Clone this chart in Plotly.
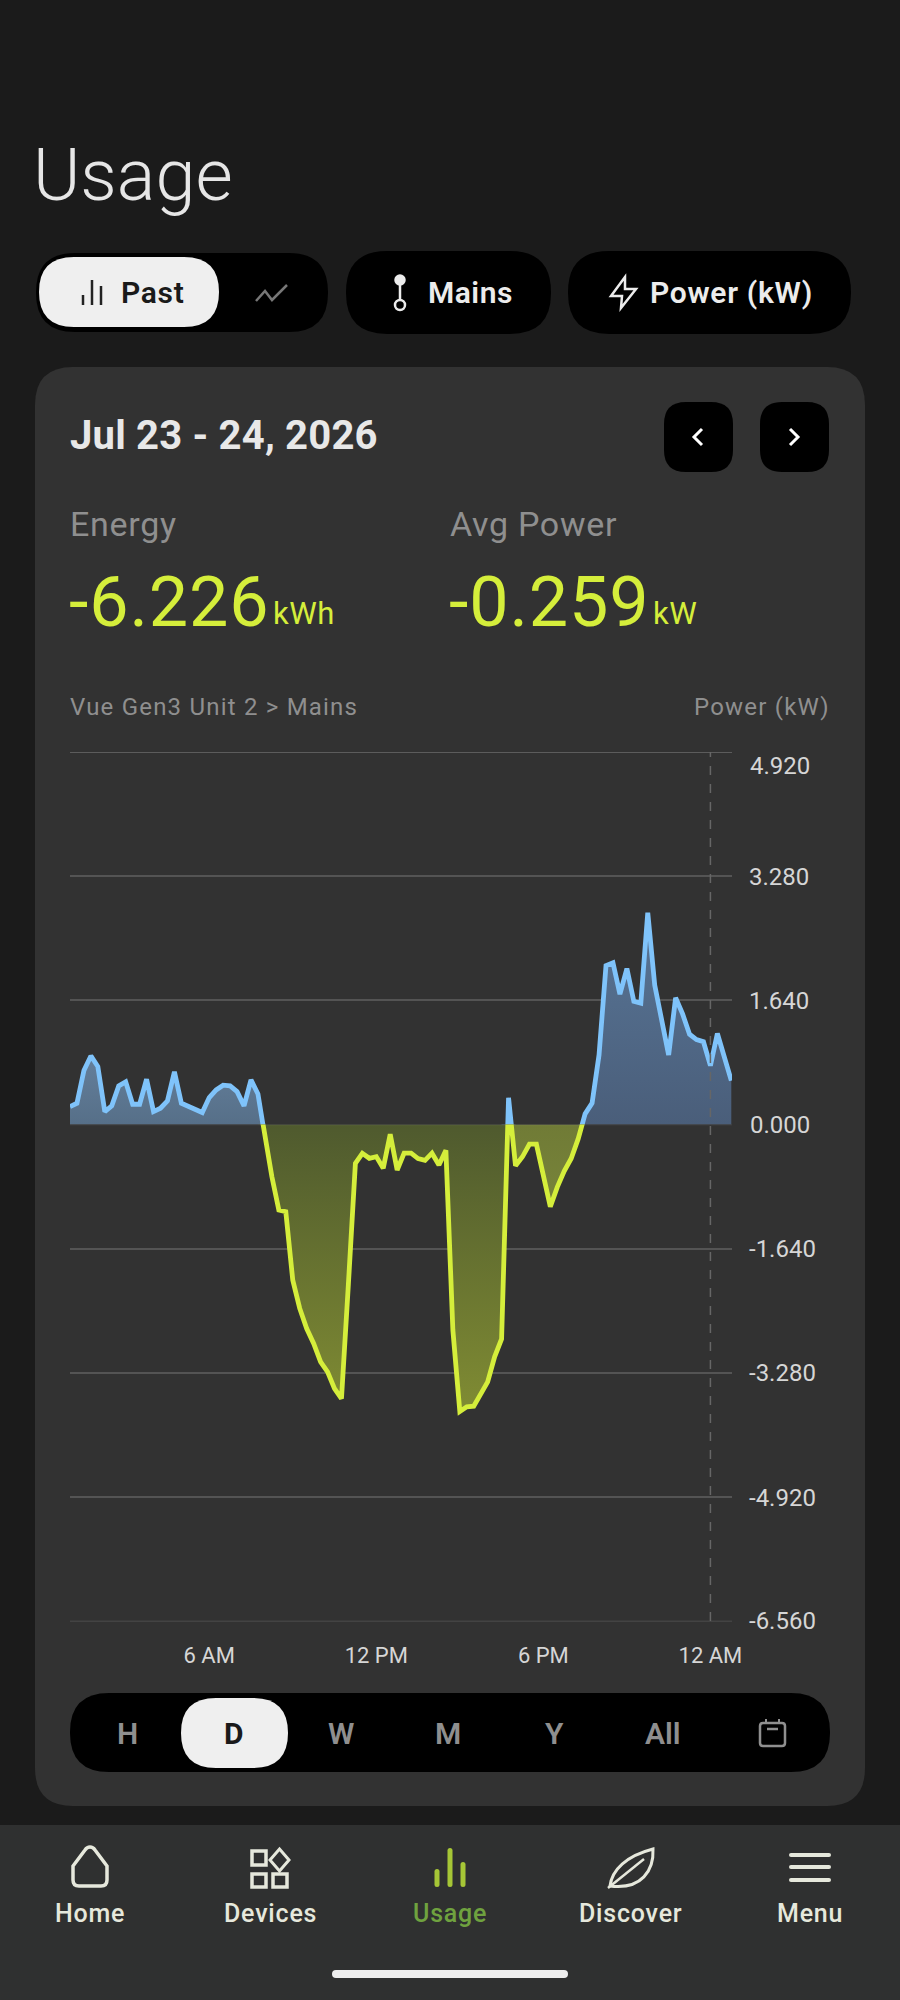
import pandas as pd
import plotly.graph_objects as go

W, H = 900, 2000

# Power every 15 minutes, 1:00 AM to 12:45 AM (kW)
power_kw = [
    0.238, 0.282, 0.714, 0.907, 0.767, 0.172, 0.247, 0.511, 0.564, 0.269,
    0.269, 0.599, 0.172, 0.216, 0.313, 0.696, 0.282, 0.238, 0.194, 0.159,
    0.357, 0.458, 0.520, 0.511, 0.436, 0.247, 0.590, 0.405, -0.159, -0.687,
    -1.128, -1.150, -2.053, -2.427, -2.692, -2.890, -3.132, -3.264, -3.485, -3.617,
    -2.097, -0.511, -0.379, -0.445, -0.423, -0.577, -0.127, -0.599, -0.377, -0.377,
    -0.448, -0.472, -0.377, -0.533, -0.340, -2.712, -3.788, -3.726, -3.717, -3.552,
    -3.396, -3.066, -2.830, 0.354, -0.542, -0.425, -0.259, -0.259, -0.684, -1.085,
    -0.825, -0.613, -0.448, -0.189, 0.142, 0.283, 0.920, 2.099, 2.137, 1.722,
    2.061, 1.627, 1.604, 2.797, 1.840, 1.344, 0.920, 1.675, 1.462, 1.193,
    1.123, 1.094, 0.778, 1.203, 0.896, 0.580,
]
times = pd.date_range("2026-07-23 01:00", periods=len(power_kw), freq="15min")

x_tick_times = ["2026-07-23 06:00", "2026-07-23 12:00", "2026-07-23 18:00", "2026-07-24 00:00"]
x_tick_labels = ["6 AM", "12 PM", "6 PM", "12 AM"]
y_ticks_up = [1.64, 3.28]
y_labels_up = ["1.640", "3.280"]
y_ticks_down = [-1.64, -3.28, -4.92]
y_labels_down = ["-1.640", "-3.280", "-4.920"]
y_top, y_bottom = 4.92, -6.56

periods = ["H", "W", "M", "Y", "All"]
period_centers = [127.5, 341, 448, 554.5, 663]
nav_labels = ["Home", "Devices", "Discover", "Menu"]
nav_centers = [90, 270, 630, 810]

BG = "#1b1b1b"
CARD = "#323232"
NAV = "#2f3030"
BLUE = "#7fc3fa"
LIME = "#d5ee3b"
GREY = "#8f8f8f"
LIGHT = "#ececec"
ICON = "#e6e8dc"
GRID = "#545454"
TICK = "#d6d6d6"


def px(x):
    return x / W


def py(y):
    return 1 - y / H


def poly(points, close=False):
    d = "M" + " L".join(f"{px(x)},{py(y)}" for x, y in points)
    return d + (" Z" if close else "")


def rrect(x0, y0, x1, y1, r):
    k = [(x0 + r, y0), (x1 - r, y0), (x1, y0), (x1, y0 + r), (x1, y1 - r), (x1, y1),
         (x1 - r, y1), (x0 + r, y1), (x0, y1), (x0, y1 - r), (x0, y0 + r), (x0, y0), (x0 + r, y0)]
    p = [f"{px(a)},{py(b)}" for a, b in k]
    return (f"M{p[0]} L{p[1]} Q{p[2]} {p[3]} L{p[4]} Q{p[5]} {p[6]} L{p[7]} "
            f"Q{p[8]} {p[9]} L{p[10]} Q{p[11]} {p[12]} Z")


shapes = []


def filled(d, color):
    shapes.append(dict(type="path", path=d, xref="paper", yref="paper", layer="below",
                       fillcolor=color, line=dict(width=0)))


def stroked(d, color, width=3):
    shapes.append(dict(type="path", path=d, xref="paper", yref="paper", layer="below",
                       line=dict(color=color, width=width)))


def circle(cx, cy, r, color, fill=None, width=2.5):
    shapes.append(dict(type="circle", xref="paper", yref="paper", layer="below",
                       x0=px(cx - r), x1=px(cx + r), y0=py(cy + r), y1=py(cy - r),
                       fillcolor=fill, line=dict(color=color, width=width)))


# panels and pills
filled(rrect(35, 367, 865, 1806, 38), CARD)
filled(poly([(0, 1825), (900, 1825), (900, 2000), (0, 2000)], True), NAV)
filled(rrect(36, 253, 328, 332, 39), "#000000")
filled(rrect(39, 257, 219, 327, 35), "#efefef")
filled(rrect(346, 251, 551, 334, 41), "#000000")
filled(rrect(568, 251, 851, 334, 41), "#000000")
filled(rrect(664, 402, 733, 472, 22), "#000000")
filled(rrect(760, 402, 829, 472, 22), "#000000")
filled(rrect(70, 1693, 830, 1772, 39), "#000000")
filled(rrect(181, 1698, 288, 1768, 35), "#efefef")
filled(rrect(332, 1970, 568, 1978, 4), "#eeeeee")

# icons of the top row
for bx, top in [(83, 295), (92, 280), (101, 286)]:
    stroked(poly([(bx, top), (bx, 305)]), "#222222", 2.5)
stroked(poly([(256, 301), (265, 291), (272, 300), (287, 285)]), "#777777", 2.5)
circle(400, 280, 4.5, LIGHT, LIGHT)
stroked(poly([(400, 284), (400, 300)]), LIGHT, 2.5)
circle(400, 305, 5, LIGHT)
stroked(poly([(625, 277), (611, 296), (622, 296), (621, 308), (636, 289), (625, 289)], True), LIGHT, 2.5)

# date arrows
stroked(poly([(702, 429), (694, 437), (702, 445)]), "#ffffff", 3)
stroked(poly([(790, 429), (798, 437), (790, 445)]), "#ffffff", 3)

# calendar
stroked(rrect(760, 1723, 785, 1746, 3), GREY, 2.5)
stroked(poly([(767, 1729), (778, 1729)]), GREY, 2.5)
stroked(poly([(766, 1719), (766, 1723)]), GREY, 2)
stroked(poly([(779, 1719), (779, 1723)]), GREY, 2)

# bottom navigation
stroked(f"M{px(90)},{py(1847)} Q{px(93)},{py(1847)} {px(95)},{py(1850)} L{px(107)},{py(1866)} "
        f"L{px(107)},{py(1880)} Q{px(107)},{py(1886)} {px(101)},{py(1886)} L{px(79)},{py(1886)} "
        f"Q{px(73)},{py(1886)} {px(73)},{py(1880)} L{px(73)},{py(1866)} L{px(85)},{py(1850)} "
        f"Q{px(87)},{py(1847)} {px(90)},{py(1847)} Z", ICON, 3.5)
stroked(poly([(252, 1851), (266, 1851), (266, 1865), (252, 1865)], True), ICON, 3.5)
stroked(poly([(252, 1874), (266, 1874), (266, 1887), (252, 1887)], True), ICON, 3.5)
stroked(poly([(273, 1874), (287, 1874), (287, 1887), (273, 1887)], True), ICON, 3.5)
stroked(poly([(279.5, 1849), (289, 1860), (279.5, 1871), (270, 1860)], True), ICON, 3)
filled(rrect(434.5, 1869, 439.5, 1887, 2.5), "#a6c636")
filled(rrect(447.5, 1848, 452.5, 1887, 2.5), "#a6c636")
filled(rrect(460.5, 1862, 465.5, 1887, 2.5), "#a6c636")
stroked(f"M{px(610)},{py(1886)} C{px(612)},{py(1870)} {px(626)},{py(1856)} {px(653)},{py(1849)} "
        f"C{px(654)},{py(1870)} {px(642)},{py(1890)} {px(610)},{py(1886)} Z", ICON, 3)
stroked(poly([(608, 1888), (644, 1859)]), ICON, 2.5)
for my in [1855, 1867, 1880]:
    filled(rrect(789, my - 2, 831, my + 2, 2), ICON)

annotations = []


def label(x, y, text, size, color, weight=400, anchor="left", spacing=0):
    if spacing:
        text = f'<span style="letter-spacing:{spacing}px">{text}</span>'
    annotations.append(dict(x=px(x), y=py(y), xref="paper", yref="paper", text=text,
                            xanchor=anchor, yanchor="middle", showarrow=False, borderpad=0,
                            font=dict(family="Roboto", size=size, color=color, weight=weight)))


label(32, 175, "Usage", 72, "#e6e6e6", 300)
label(120, 292, "Past", 30, "#1a1a1a", 600, spacing=0.7)
label(427, 292, "Mains", 30, LIGHT, 600, spacing=0.5)
label(649, 292, "Power (kW)", 30, LIGHT, 600, spacing=0.7)
label(69, 436, "Jul 23 - 24, 2026", 40, "#e8e8e8", 700, spacing=0.2)
label(69, 524, "Energy", 34, GREY, 400, spacing=0.7)
label(449, 524, "Avg Power", 34, GREY, 400, spacing=0.7)
label(68, 602, "-6.226", 70, LIME, 400, spacing=0.9)
label(272, 614, "kWh", 31, LIME, 400, spacing=0.5)
label(448, 602, "-0.259", 70, LIME, 400, spacing=0.9)
label(652, 614, "kW", 31, LIME, 400, spacing=0.5)
label(69, 707, "Vue Gen3 Unit 2 &gt; Mains", 24, GREY, 400, spacing=1.2)
label(831, 707, "Power (kW)", 24, GREY, 400, "right", spacing=1.2)
for name, cx in zip(periods, period_centers):
    label(cx, 1733, name, 30, GREY, 600, "center")
label(234, 1733, "D", 30, "#1a1a1a", 700, "center")
for name, cx in zip(nav_labels, nav_centers):
    label(cx, 1913, name, 25, ICON, 500, "center", spacing=0.8)
label(450, 1913, "Usage", 25, "#6fa23f", 500, "center", spacing=0.8)

# the axis ends and zero are labelled here, their ticks would sit on the subplot edges
annotations.append(dict(x=px(748), y=y_top, xref="paper", yref="y", yshift=-14, text="4.920",
                        xanchor="left", showarrow=False,
                        font=dict(family="Roboto", size=24, color=TICK)))
annotations.append(dict(x=px(747), y=y_bottom, xref="paper", yref="y2", yshift=1, text="-6.560",
                        xanchor="left", showarrow=False,
                        font=dict(family="Roboto", size=24, color=TICK)))
annotations.append(dict(x=px(748), y=0, xref="paper", yref="y2", text="0.000",
                        xanchor="left", showarrow=False,
                        font=dict(family="Roboto", size=24, color=TICK)))

# plotly leaves out gridlines at the ends of an axis, so these three are drawn here
shapes.append(dict(type="line", xref="paper", yref="y", x0=px(70), x1=px(732), y0=y_top, y1=y_top,
                   layer="below", line=dict(color="#5c5c5c", width=2)))
shapes.append(dict(type="line", xref="paper", yref="y2", x0=px(70), x1=px(732), y0=y_bottom, y1=y_bottom,
                   layer="below", line=dict(color=GRID, width=1.5)))
shapes.append(dict(type="line", xref="paper", yref="y2", x0=px(70), x1=px(732), y0=0, y1=0,
                   line=dict(color="rgba(255,255,255,0.12)", width=1.5)))

# dashed marker at midnight
shapes.append(dict(type="line", xref="x", yref="paper", x0=x_tick_times[-1], x1=x_tick_times[-1],
                   y0=py(1621), y1=py(752), line=dict(color="#666666", width=1.5, dash="dash")))


def lobe(first, last, yaxis, start, stop, low, high):
    # each lobe of the area has its own shading
    return go.Scatter(
        x=times[first:last + 1], y=power_kw[first:last + 1], yaxis=yaxis, mode="none",
        fill="tozeroy", hoverinfo="skip", showlegend=False,
        fillgradient=dict(type="vertical", start=start, stop=stop,
                          colorscale=[[0, low], [1, high]]),
    )


fig = go.Figure()
fig.add_trace(lobe(0, 28, "y", 0, 0.9, "#566f88", "#647f9b"))
fig.add_trace(lobe(62, 64, "y", 0, 0.4, "#6390c0", "#6390c0"))
fig.add_trace(lobe(73, 95, "y", 0, 2.8, "#4a5e7a", "#587596"))
fig.add_trace(lobe(27, 63, "y2", -3.8, 0, "#808c33", "#4f5a2e"))
fig.add_trace(lobe(63, 74, "y2", -1.1, 0, "#78843a", "#707b36"))
fig.add_trace(go.Scatter(x=times, y=power_kw, yaxis="y", mode="lines", showlegend=False,
                         line=dict(color=BLUE, width=4.8)))
fig.add_trace(go.Scatter(x=times, y=power_kw, yaxis="y2", mode="lines", showlegend=False,
                         line=dict(color=LIME, width=4.8)))

fig.update_layout(
    width=W, height=H,
    margin=dict(l=0, r=0, t=0, b=0, autoexpand=False),
    paper_bgcolor=BG,
    plot_bgcolor="rgba(0,0,0,0)",
    showlegend=False,
    shapes=shapes,
    annotations=annotations,
    font=dict(family="Roboto"),
    xaxis=dict(
        domain=[px(70), px(732)], anchor="y2", type="date", automargin=False,
        range=["2026-07-23 01:00", "2026-07-24 00:46:30"],
        tickvals=x_tick_times, ticktext=x_tick_labels, showgrid=False, zeroline=False,
        showline=False, ticks="", ticklabelstandoff=18,
        tickfont=dict(size=22, color=TICK),
    ),
    yaxis=dict(
        domain=[py(1124.6), py(752)], range=[0, y_top], anchor="x", side="right", automargin=False,
        tickvals=y_ticks_up, ticktext=y_labels_up, showgrid=True, gridcolor=GRID,
        gridwidth=1.5, zeroline=False, showline=False, ticks="", ticklabelstandoff=16,
        tickfont=dict(size=24, color=TICK),
    ),
    yaxis2=dict(
        domain=[py(1621.5), py(1124.6)], range=[y_bottom, 0], anchor="x", side="right", automargin=False,
        tickvals=y_ticks_down, ticktext=y_labels_down, showgrid=True,
        gridcolor=GRID, gridwidth=1.5, zeroline=False, showline=False, ticks="",
        ticklabelstandoff=16, tickfont=dict(size=24, color=TICK),
    ),
)

fig.write_html("out.html", config={"displayModeBar": False},
               post_script="document.body.style.margin='0';")
